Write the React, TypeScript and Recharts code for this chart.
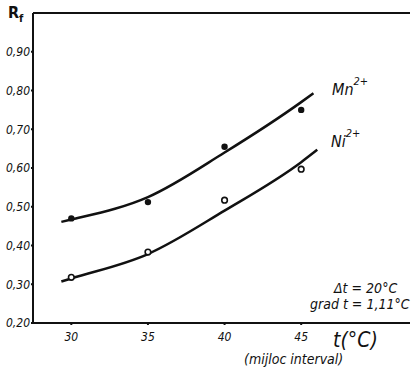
import { ComposedChart, Line, Scatter, XAxis, YAxis, ReferenceLine } from "recharts"

// measured points (t in °C, Rf)
const temps = [30, 35, 40, 45]
const mnPoints = [0.47, 0.512, 0.655, 0.75]
const niPoints = [0.318, 0.383, 0.517, 0.597]

// hand-drawn fitted curves, sampled along their length
const mnCurveT = [29.35, 30, 35, 40, 45, 45.8]
const mnCurveRf = [0.461, 0.467, 0.525, 0.64, 0.77, 0.793]
const niCurveT = [29.35, 30, 35, 40, 45, 46.05]
const niCurveRf = [0.307, 0.315, 0.378, 0.49, 0.615, 0.647]

const xTicks = [30, 35, 40, 45]
const yTicks = [0.2, 0.3, 0.4, 0.5, 0.6, 0.7, 0.8, 0.9]

const zip = (xs: number[], ys: number[]) => xs.map((x, i) => ({ x, y: ys[i] }))

const mnDots = zip(temps, mnPoints)
const niDots = zip(temps, niPoints)
const mnCurve = zip(mnCurveT, mnCurveRf)
const niCurve = zip(niCurveT, niCurveRf)

const font = "'DejaVu Sans Condensed', 'DejaVu Sans', sans-serif"

const txt = (left: number, top: number, size: number, extra: object = {}) => ({
  position: "absolute" as const,
  left,
  top,
  fontSize: size,
  fontStyle: "italic",
  fontFamily: font,
  color: "#111",
  lineHeight: 1,
  whiteSpace: "nowrap" as const,
  ...extra,
})

const FilledDot = (props: any) => <circle cx={props.cx} cy={props.cy} r={3.2} fill="#111" />
const OpenDot = (props: any) => (
  <circle cx={props.cx} cy={props.cy} r={2.8} fill="#fff" stroke="#111" strokeWidth={1.6} />
)

export default function App() {
  return (
    <div style={{ position: "absolute", left: 0, top: 0, width: 413, height: 369, background: "#fff" }}>
      <ComposedChart width={413} height={369} margin={{ top: 13, right: 3, bottom: 0, left: 0 }}>
        <XAxis
          type="number"
          dataKey="x"
          domain={[27.5, 52.1]}
          ticks={xTicks}
          allowDataOverflow
          height={46}
          stroke="#111"
          strokeWidth={2}
          tickSize={2}
          tickMargin={7}
          tick={{ fill: "#111", fontSize: 12, fontStyle: "italic", fontFamily: font }}
        />
        <YAxis
          type="number"
          dataKey="y"
          domain={[0.2, 1.0]}
          ticks={yTicks}
          allowDataOverflow
          width={33}
          stroke="#111"
          strokeWidth={2}
          tickSize={2}
          tickMargin={1}
          tickFormatter={(v: number) => v.toFixed(2).replace(".", ",")}
          tick={{ fill: "#111", fontSize: 12, fontStyle: "italic", fontFamily: font }}
        />
        <ReferenceLine y={1.0} stroke="#111" strokeWidth={2} />
        <Line data={mnCurve} dataKey="y" type="monotone" stroke="#111" strokeWidth={2.5} dot={false} isAnimationActive={false} />
        <Line data={niCurve} dataKey="y" type="monotone" stroke="#111" strokeWidth={2.5} dot={false} isAnimationActive={false} />
        <Scatter data={mnDots} dataKey="y" shape={FilledDot} isAnimationActive={false} />
        <Scatter data={niDots} dataKey="y" shape={OpenDot} isAnimationActive={false} />
      </ComposedChart>

      <div style={txt(8, 5, 16, { fontStyle: "normal", fontWeight: "bold" })}>
        R<sub style={{ fontSize: 11 }}>f</sub>
      </div>
      <div style={txt(332, 80, 16)}>
        Mn<sup style={{ fontSize: 11, position: "relative", top: -4 }}>2+</sup>
      </div>
      <div style={txt(331, 132, 16)}>
        Ni<sup style={{ fontSize: 11, position: "relative", top: -4 }}>2+</sup>
      </div>
      <div style={txt(334, 281, 14)}>Δt = 20°C</div>
      <div style={txt(310, 297, 14)}>grad t = 1,11°C</div>
      <div style={txt(333, 330, 21)}>t(°C)</div>
      <div style={txt(244, 352, 14)}>(mijloc interval)</div>
    </div>
  )
}
